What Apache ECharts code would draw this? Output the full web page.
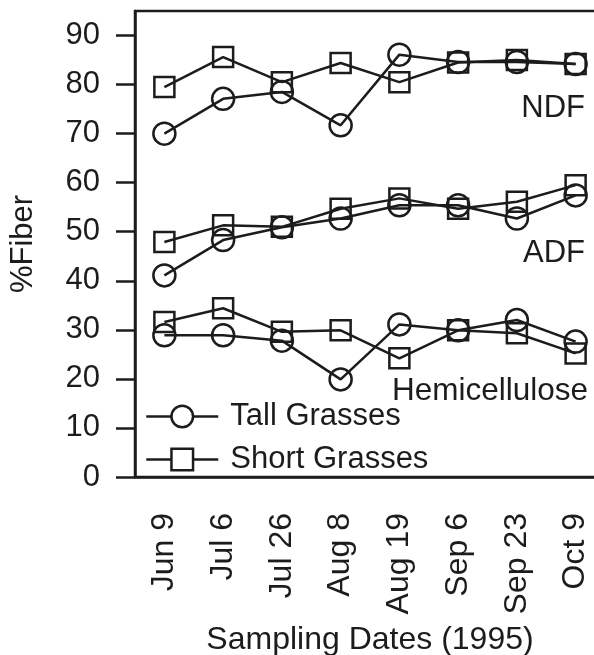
<!DOCTYPE html>
<html>
<head>
<meta charset="utf-8">
<script src="https://cdn.jsdelivr.net/npm/echarts@6/dist/echarts.min.js"></script>
<style>
  html, body { margin: 0; padding: 0; background: #fff; }
  #chart { width: 594px; height: 655px; }
</style>
</head>
<body>
<div id="chart"></div>
<script>
const dates = ['Jun 9', 'Jul 6', 'Jul 26', 'Aug 8', 'Aug 19', 'Sep 6', 'Sep 23', 'Oct 9']
const yTicks = [0, 10, 20, 30, 40, 50, 60, 70, 80, 90]

// NDF
const ndfTall = [70.0, 77.1, 78.5, 71.7, 86.1, 84.6, 84.6, 84.2]
const ndfShort = [79.5, 85.6, 80.5, 84.4, 80.5, 84.5, 85.0, 84.2]
// ADF
const adfTall = [41.1, 48.3, 50.9, 52.7, 55.4, 55.4, 52.7, 57.4]
const adfShort = [47.9, 51.3, 51.0, 54.7, 56.8, 54.7, 56.1, 59.5]
// Hemicellulose
const hemiTall = [28.9, 28.9, 27.8, 19.9, 31.1, 29.9, 32.0, 27.6]
const hemiShort = [31.6, 34.4, 29.6, 29.9, 24.2, 29.9, 29.3, 25.2]

const ink = '#1c1c1c'
const font = 'Liberation Sans, Arial, Helvetica, sans-serif'

function mkSeries(name, data, symbol, size) {
  return {
    name: name,
    type: 'line',
    data: data,
    symbol: symbol,
    symbolSize: size,
    showAllSymbol: true,
    animation: false,
    lineStyle: { color: ink, width: 2.5 },
    itemStyle: { color: 'transparent', borderColor: ink, borderWidth: 2.5 }
  }
}

const chart = echarts.init(document.getElementById('chart'))
chart.setOption({
  backgroundColor: '#fff',
  animation: false,
  grid: {
    left: 135, top: 11, width: 470, height: 466,
    outerBoundsMode: 'none',
    containLabel: false,
    show: true, borderColor: ink, borderWidth: 2.5
  },
  legend: {
    data: ['Tall Grasses', 'Short Grasses'],
    orient: 'vertical',
    left: 140, top: 396,
    itemWidth: 72, itemHeight: 27, itemGap: 12,
    itemStyle: { color: '#fff', borderColor: ink, borderWidth: 2.5 },
    lineStyle: { color: ink, width: 2.5 },
    textStyle: { fontSize: 31, fontFamily: font, color: ink, padding: [0, 0, 0, 7] }
  },
  xAxis: {
    type: 'category',
    data: dates,
    boundaryGap: true,
    name: 'Sampling Dates (1995)',
    nameLocation: 'middle',
    nameGap: 147,
    nameTextStyle: { fontSize: 32, fontFamily: font, color: ink },
    axisLine: { lineStyle: { color: ink, width: 2.5 } },
    axisTick: { alignWithLabel: true, length: 18, lineStyle: { color: ink, width: 2.5 } },
    axisLabel: { rotate: 90, margin: 36, fontSize: 32, fontFamily: font, color: ink, interval: 0 },
    splitLine: { show: false }
  },
  yAxis: {
    type: 'value',
    min: 0, max: 95,
    name: '%Fiber',
    nameLocation: 'middle',
    nameGap: 96,
    nameTextStyle: { fontSize: 31, fontFamily: font, color: ink },
    axisLine: { show: true, lineStyle: { color: ink, width: 2.5 } },
    axisTick: { show: true, length: 19, customValues: yTicks, lineStyle: { color: ink, width: 2.5 } },
    axisLabel: { margin: 35, fontSize: 31, fontFamily: font, color: ink, customValues: yTicks },
    splitLine: { show: false }
  },
  graphic: [
    { type: 'text', right: 9, top: 93, style: { text: 'NDF', fontSize: 31, fontFamily: font, fill: ink } },
    { type: 'text', right: 9, top: 238, style: { text: 'ADF', fontSize: 31, fontFamily: font, fill: ink } },
    { type: 'text', right: 6, top: 375, style: { text: 'Hemicellulose', fontSize: 31.5, fontFamily: font, fill: ink } }
  ],
  series: [
    mkSeries('Tall Grasses', ndfTall, 'circle', 22),
    mkSeries('Short Grasses', ndfShort, 'rect', 20),
    mkSeries('Tall Grasses', adfTall, 'circle', 22),
    mkSeries('Short Grasses', adfShort, 'rect', 20),
    mkSeries('Tall Grasses', hemiTall, 'circle', 22),
    mkSeries('Short Grasses', hemiShort, 'rect', 20)
  ]
})
</script>
</body>
</html>
